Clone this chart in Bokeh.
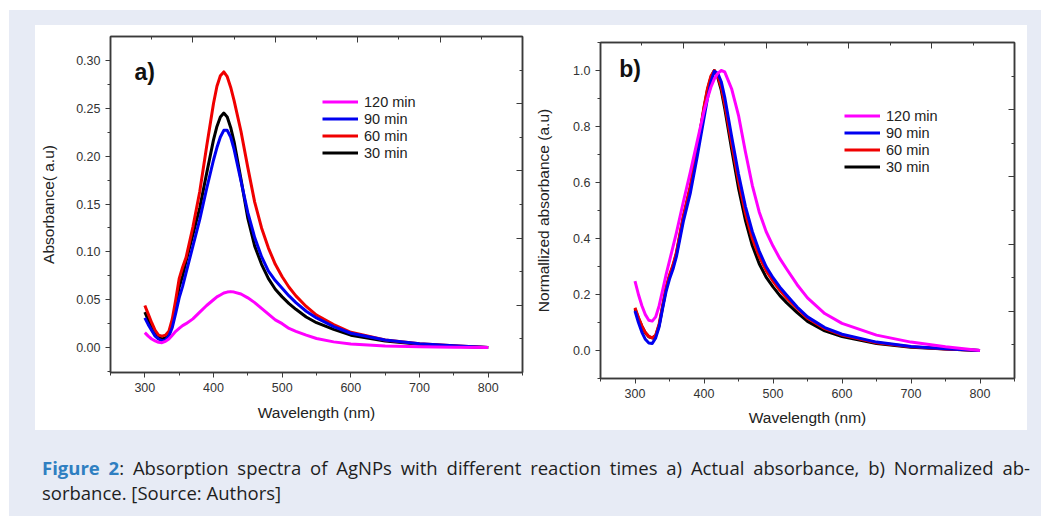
from bokeh.plotting import figure
from bokeh.models import (Range1d, LinearAxis, SingleIntervalTicker, PrintfTickFormatter,
                          CustomJSTickFormatter, Legend, LegendItem, Label, Div, Spacer)
from bokeh.layouts import row, column
from bokeh.embed import file_html
from bokeh.resources import INLINE

FONT = "Liberation Sans"
AX = "#3a3a3a"
TXT = "#222222"

# ---------------- data ----------------
wavelength = [300, 305, 310, 315, 320, 325, 330, 335, 340, 345, 350, 355, 360, 370, 380,
              390, 400, 405, 410, 415, 420, 425, 430, 440, 450, 460, 470, 480, 490, 500,
              510, 520, 535, 550, 575, 600, 650, 700, 750, 800]

# panel a) actual absorbance
abs_120 = [0.0157, 0.012, 0.009, 0.007, 0.0055, 0.0052, 0.0065, 0.009, 0.013, 0.017, 0.020,
           0.023, 0.025, 0.030, 0.037, 0.044, 0.050, 0.053, 0.055, 0.057, 0.058, 0.0585,
           0.058, 0.056, 0.052, 0.047, 0.041, 0.035, 0.029, 0.025, 0.020, 0.017, 0.013,
           0.0095, 0.006, 0.0038, 0.0018, 0.0008, 0.0003, 0.0]
abs_90 = [0.031, 0.024, 0.018, 0.012, 0.009, 0.007, 0.008, 0.012, 0.021, 0.036, 0.052,
          0.064, 0.078, 0.106, 0.134, 0.166, 0.196, 0.209, 0.220, 0.227, 0.227, 0.220,
          0.207, 0.174, 0.141, 0.115, 0.095, 0.080, 0.070, 0.062, 0.054, 0.047, 0.038,
          0.031, 0.022, 0.015, 0.008, 0.004, 0.002, 0.0]
abs_60 = [0.044, 0.035, 0.026, 0.018, 0.013, 0.012, 0.013, 0.017, 0.030, 0.050, 0.072,
          0.084, 0.094, 0.126, 0.163, 0.210, 0.255, 0.273, 0.284, 0.288, 0.283, 0.272,
          0.258, 0.226, 0.188, 0.152, 0.125, 0.104, 0.087, 0.074, 0.063, 0.054, 0.043,
          0.034, 0.024, 0.016, 0.008, 0.004, 0.002, 0.0]
abs_30 = [0.037, 0.029, 0.022, 0.015, 0.011, 0.009, 0.010, 0.014, 0.026, 0.044, 0.063,
          0.075, 0.090, 0.118, 0.146, 0.182, 0.217, 0.231, 0.241, 0.245, 0.241, 0.230,
          0.215, 0.176, 0.135, 0.106, 0.087, 0.072, 0.061, 0.053, 0.046, 0.040, 0.032,
          0.026, 0.019, 0.013, 0.007, 0.0035, 0.0015, 0.0]

# panel b) normalized absorbance
norm_120 = [0.248, 0.20, 0.16, 0.128, 0.108, 0.105, 0.12, 0.16, 0.215, 0.27, 0.32, 0.37,
            0.42, 0.53, 0.635, 0.745, 0.855, 0.90, 0.94, 0.97, 0.99, 1.0, 0.995, 0.935,
            0.84, 0.71, 0.59, 0.495, 0.425, 0.373, 0.328, 0.29, 0.235, 0.188, 0.132, 0.097,
            0.055, 0.030, 0.013, 0.0]
norm_90 = [0.141, 0.10, 0.065, 0.04, 0.027, 0.025, 0.045, 0.085, 0.15, 0.21, 0.255, 0.29,
           0.335, 0.46, 0.56, 0.69, 0.83, 0.90, 0.96, 0.997, 0.99, 0.96, 0.905, 0.765,
           0.63, 0.515, 0.425, 0.355, 0.30, 0.26, 0.226, 0.197, 0.155, 0.12, 0.082, 0.058,
           0.030, 0.014, 0.006, 0.0]
norm_60 = [0.153, 0.118, 0.088, 0.064, 0.05, 0.045, 0.055, 0.095, 0.16, 0.225, 0.27, 0.305,
           0.35, 0.48, 0.585, 0.72, 0.87, 0.935, 0.98, 1.0, 0.98, 0.94, 0.88, 0.74, 0.605,
           0.49, 0.40, 0.335, 0.285, 0.248, 0.215, 0.187, 0.15, 0.115, 0.078, 0.055,
           0.028, 0.013, 0.005, 0.0]
norm_30 = [0.148, 0.115, 0.086, 0.063, 0.049, 0.045, 0.053, 0.09, 0.155, 0.22, 0.265, 0.30,
           0.345, 0.475, 0.58, 0.715, 0.865, 0.93, 0.975, 1.0, 0.975, 0.93, 0.865, 0.72,
           0.58, 0.465, 0.375, 0.31, 0.262, 0.227, 0.196, 0.17, 0.135, 0.104, 0.07, 0.05,
           0.025, 0.012, 0.005, 0.0]

series_labels = ["120 min", "90 min", "60 min", "30 min"]
series_colors = ["#FF00FF", "#0000F0", "#F00000", "#000000"]

x_label = "Wavelength (nm)"
y_label_a = "Absorbance( a.u)"
y_label_b = "Normallized absorbance (a.u)"


def make_panel(ys, y_range, y_interval, y_fmt, y_label, tag, tag_xy, legend_loc,
               mb_left, mb_right, mb_top, mb_bottom, frame_w, x_label_standoff,
               y_label_standoff):
    p = figure(frame_width=frame_w, frame_height=336,
               x_range=Range1d(250, 850), y_range=Range1d(*y_range),
               output_backend="svg", toolbar_location=None,
               min_border_left=mb_left, min_border_right=mb_right,
               min_border_top=mb_top, min_border_bottom=mb_bottom,
               background_fill_color="white", border_fill_color="white",
               outline_line_color=AX, outline_line_width=1.5)
    p.grid.visible = False

    xa = p.xaxis[0]
    xa.ticker = SingleIntervalTicker(interval=100, num_minor_ticks=2)
    ya = p.yaxis[0]
    ya.ticker = SingleIntervalTicker(interval=y_interval, num_minor_ticks=2)
    ya.formatter = PrintfTickFormatter(format=y_fmt)
    xa.axis_label = x_label
    ya.axis_label = y_label
    for ax in (xa, ya):
        ax.axis_line_color = AX
        ax.axis_line_width = 1.5
        ax.major_tick_line_color = AX
        ax.minor_tick_line_color = AX
        ax.major_tick_out = 5
        ax.major_tick_in = 0
        ax.minor_tick_out = 3
        ax.minor_tick_in = 0
        ax.major_label_text_font = FONT
        ax.major_label_text_font_size = "12.5px"
        ax.major_label_text_color = "#333333"
        ax.axis_label_text_font = FONT
        ax.axis_label_text_font_size = "15.5px"
        ax.axis_label_text_font_style = "normal"
        ax.axis_label_text_color = TXT
    xa.major_label_standoff = 5
    ya.major_label_standoff = 5
    xa.axis_label_standoff = x_label_standoff
    ya.axis_label_standoff = y_label_standoff

    # mirrored frame axes (ticks only)
    p.extra_x_ranges = {"top": Range1d(0, 5)}
    p.extra_y_ranges = {"right": Range1d(0, 5)}
    blank = CustomJSTickFormatter(code="return ''")
    top = LinearAxis(x_range_name="top", ticker=SingleIntervalTicker(interval=1, num_minor_ticks=2),
                     formatter=blank)
    right = LinearAxis(y_range_name="right", ticker=SingleIntervalTicker(interval=1, num_minor_ticks=2),
                       formatter=blank)
    for ax in (top, right):
        ax.axis_line_color = AX
        ax.axis_line_width = 1.5
        ax.major_tick_line_color = AX
        ax.minor_tick_line_color = AX
        ax.major_tick_in = 6
        ax.major_tick_out = 0
        ax.minor_tick_in = 3
        ax.minor_tick_out = 0
        ax.major_label_standoff = 0
        ax.major_label_text_font_size = "1px"
    p.add_layout(top, "above")
    p.add_layout(right, "right")

    # draw order: 30, 60, 90, 120 (120 on top)
    rends = {}
    for i in [3, 2, 1, 0]:
        rends[i] = p.line(wavelength, ys[i], line_color=series_colors[i], line_width=3,
                          line_join="round")

    legend = Legend(items=[LegendItem(label=series_labels[i], renderers=[rends[i]]) for i in range(4)],
                    location=legend_loc, padding=0, margin=0, spacing=0,
                    glyph_width=36, glyph_height=17, label_height=17, label_standoff=6,
                    label_text_font=FONT, label_text_font_size="14.5px",
                    label_text_color=TXT, background_fill_alpha=0, border_line_alpha=0)
    p.add_layout(legend)

    p.add_layout(Label(x=tag_xy[0], y=tag_xy[1], text=tag, text_font=FONT,
                       text_font_size="23px", text_font_style="bold",
                       text_color="#111111", text_baseline="middle"))
    return p


pa = make_panel([abs_120, abs_90, abs_60, abs_30], (-0.026, 0.325), 0.05, "%.2f",
                y_label_a, "a)", (285, 0.288), (212, 211),
                mb_left=75, mb_right=7, mb_top=11, mb_bottom=58, frame_w=412,
                x_label_standoff=9, y_label_standoff=16)
pb = make_panel([norm_120, norm_90, norm_60, norm_30], (-0.1, 1.1), 0.2, "%.1f",
                y_label_b, "b)", (277, 1.007), (244, 203),
                mb_left=71, mb_right=13, mb_top=11, mb_bottom=52, frame_w=414,
                x_label_standoff=8, y_label_standoff=18)

caption_html = (
    '<div style="font-family:\'Open Sans\', sans-serif; font-size:18.5px; line-height:25px; color:#1e1e1e; width:988px;">'
    '<div style="text-align:justify; text-align-last:justify; white-space:nowrap;">'
    '<span style="color:#2F7FC1; font-weight:bold;">Figure 2</span>: Absorption spectra of AgNPs with different '
    'reaction times a) Actual absorbance, b) Normalized ab-</div>'
    '<div>sorbance. [Source: Authors]</div>'
    '</div>'
)
caption = Div(text=caption_html, width=990, height=50)

left_box = column(pa, styles={"background-color": "white"})
right_box = column(Spacer(width=498, height=6), pb, styles={"background-color": "white"})
panels = row(left_box, right_box, styles={"background-color": "white"})

lavender = column(
    Spacer(width=1032, height=15),
    row(Spacer(width=26, height=405), panels),
    Spacer(width=1032, height=20),
    row(Spacer(width=28, height=50), caption),
    Spacer(width=1032, height=16),
    styles={"background-color": "#E7EBF5"},
)

layout = column(Spacer(width=1041, height=10), row(Spacer(width=9, height=506), lavender))

open("out.html", "w").write(file_html(layout, INLINE))
